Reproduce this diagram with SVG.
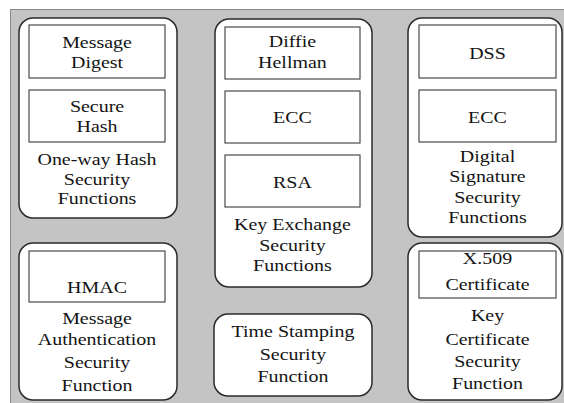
<svg xmlns="http://www.w3.org/2000/svg" width="564" height="403" viewBox="0 0 564 403">
  <style>
    .bg { fill: #c4c4c4; stroke: #8a8a8a; stroke-width: 1; }
    .panel { fill: #ffffff; stroke: #2a2a2a; stroke-width: 1.5; }
    .box { fill: #ffffff; stroke: #4a4a4a; stroke-width: 1.2; }
    .lbl { font-family: "Liberation Serif", "Times New Roman", serif; font-size: 16.5px; fill: #141414; text-anchor: middle; }
  </style>
  <!-- backdrop -->
  <rect class="bg" x="10.5" y="9.5" width="560" height="400"/>

  <!-- one-way hash -->
  <g id="oneway-hash">
    <rect class="panel" x="19" y="18" width="158" height="200" rx="14"/>
    <rect class="box" x="29" y="25" width="136" height="53"/>
    <rect class="box" x="29" y="90" width="136" height="52"/>
    <g class="lbl" transform="scale(1.21 1)">
      <text x="80.2" y="48">Message</text>
      <text x="80.2" y="68">Digest</text>
      <text x="80.2" y="112">Secure</text>
      <text x="80.2" y="132">Hash</text>
      <text x="80.2" y="165">One-way Hash</text>
      <text x="80.2" y="185">Security</text>
      <text x="80.2" y="204">Functions</text>
    </g>
  </g>

  <!-- key exchange -->
  <g id="key-exchange">
    <rect class="panel" x="215" y="19" width="157" height="268" rx="14"/>
    <rect class="box" x="225" y="27" width="135" height="52"/>
    <rect class="box" x="225" y="91" width="135" height="52"/>
    <rect class="box" x="225" y="155" width="135" height="52"/>
    <g class="lbl" transform="scale(1.21 1)">
      <text x="241.7" y="47">Diffie</text>
      <text x="241.7" y="68">Hellman</text>
      <text x="241.7" y="123">ECC</text>
      <text x="241.7" y="188">RSA</text>
      <text x="241.7" y="230">Key Exchange</text>
      <text x="241.7" y="251">Security</text>
      <text x="241.7" y="271">Functions</text>
    </g>
  </g>

  <!-- digital signature -->
  <g id="digital-signature">
    <rect class="panel" x="408" y="18" width="154" height="219" rx="14"/>
    <rect class="box" x="419" y="25" width="137" height="53"/>
    <rect class="box" x="419" y="90" width="137" height="52"/>
    <g class="lbl" transform="scale(1.21 1)">
      <text x="402.9" y="59">DSS</text>
      <text x="402.9" y="123">ECC</text>
      <text x="402.9" y="162">Digital</text>
      <text x="402.9" y="182">Signature</text>
      <text x="402.9" y="203">Security</text>
      <text x="402.9" y="223">Functions</text>
    </g>
  </g>

  <!-- message authentication -->
  <g id="message-authentication">
    <rect class="panel" x="19" y="243" width="158" height="157" rx="14"/>
    <rect class="box" x="29" y="251" width="136" height="51"/>
    <g class="lbl" transform="scale(1.21 1)">
      <text x="80.2" y="293">HMAC</text>
      <text x="80.2" y="324">Message</text>
      <text x="80.2" y="345">Authentication</text>
      <text x="80.2" y="368">Security</text>
      <text x="80.2" y="391">Function</text>
    </g>
  </g>

  <!-- time stamping -->
  <g id="time-stamping">
    <rect class="panel" x="214" y="314" width="158" height="82" rx="14"/>
    <g class="lbl" transform="scale(1.21 1)">
      <text x="242.1" y="337">Time Stamping</text>
      <text x="242.1" y="360">Security</text>
      <text x="242.1" y="382">Function</text>
    </g>
  </g>

  <!-- key certificate -->
  <g id="key-certificate">
    <rect class="panel" x="408" y="243" width="154" height="157" rx="14"/>
    <rect class="box" x="419" y="251" width="137" height="47"/>
    <g class="lbl" transform="scale(1.21 1)">
      <text x="402.9" y="264">X.509</text>
      <text x="402.9" y="290">Certificate</text>
      <text x="402.9" y="321">Key</text>
      <text x="402.9" y="345">Certificate</text>
      <text x="402.9" y="367">Security</text>
      <text x="402.9" y="389">Function</text>
    </g>
  </g>

  <g id="connectors"/>
</svg>
